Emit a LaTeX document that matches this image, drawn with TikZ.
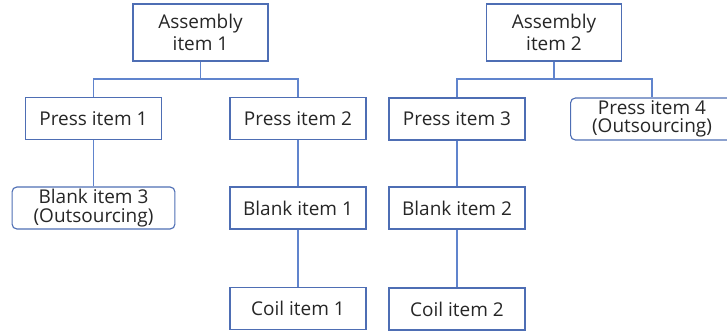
\documentclass[tikz,border=0pt]{standalone}
\usepackage{fontspec}
\setmainfont{Open Sans}
\definecolor{boxblue}{RGB}{78,110,180}
\definecolor{lineblue}{RGB}{96,132,205}
\definecolor{txt}{RGB}{38,38,38}

\begin{document}
\begin{tikzpicture}
[x=0.025cm,y=-0.025cm,
 item/.style={draw=boxblue,line width=0.8pt,text=txt,inner sep=0pt,
   minimum width=3.4cm,minimum height=1.05cm,font=\fontsize{13.5}{15.6}\selectfont},
 asm/.style={item,minimum width=3.375cm,minimum height=1.425cm,align=center},
 outbox/.style={item,rounded corners=0.12cm,minimum width=4.07cm,align=center,
   font=\fontsize{13.5}{13.2}\selectfont},
 link/.style={draw=lineblue,line width=0.8pt}]
\useasboundingbox (0,0) rectangle (727,333);

% top level
\node[asm] (A1) at (200.5,32.5) {Assembly\\item 1};
\node[asm] (A2) at (554,32.5) {Assembly\\item 2};

% press items
\node[item] (P1) at (93.5,118.5) {Press item 1};
\node[item] (P2) at (298,118.5) {Press item 2};
\node[item] (P3) at (457,119) {Press item 3};
\node[outbox] (P4) at (652,119) {Press item 4\\(Outsourcing)};

% blank items
\node[outbox] (B3) at (93.5,208) {Blank item 3\\(Outsourcing)};
\node[item] (B1) at (298,208) {Blank item 1};
\node[item] (B2) at (457,208) {Blank item 2};

% coils
\node[item] (C1) at (298,308.5) {Coil item 1};
\node[item] (C2) at (457,309) {Coil item 2};

\coordinate (j1) at (200.5,79);
\coordinate (j2) at (554,79);

\path[link] (A1) -- (j1);
\path[link] (P1.north) |- (j1) -| (P2.north);
\path[link] (A2) -- (j2);
\path[link] (P3.north) |- (j2) -| (P4.north);

\path[link] (P1) -- (B3);
\path[link] (P2) -- (B1);
\path[link] (P3) -- (B2);
\path[link] (B1) -- (C1);
\path[link] (B2) -- (C2);
\end{tikzpicture}
\end{document}
